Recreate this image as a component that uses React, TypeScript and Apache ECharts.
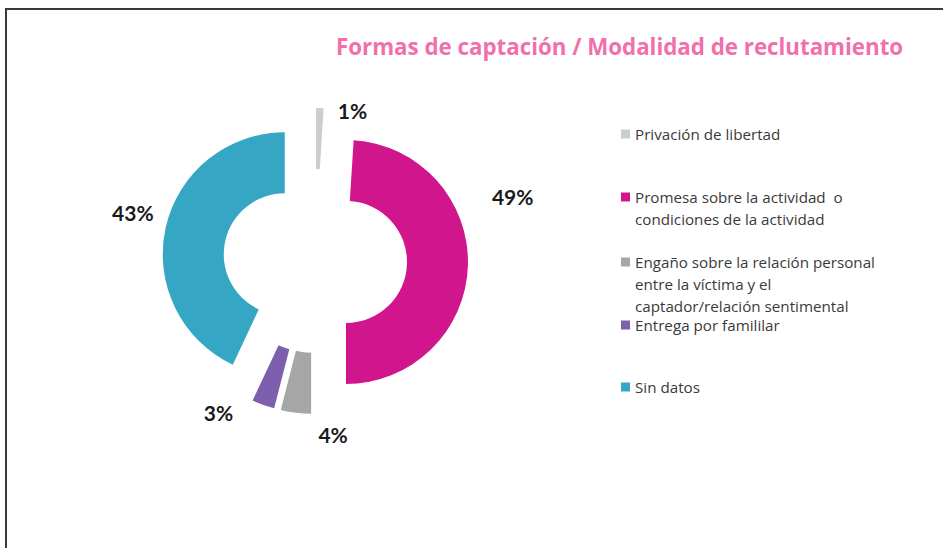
import React, { useEffect, useRef } from "react";
import * as echarts from "echarts";

const titleText = "Formas de captación / Modalidad de reclutamiento";
const categories = [
  "Privación de libertad",
  "Promesa sobre la actividad o condiciones de la actividad",
  "Engaño sobre la relación personal entre la víctima y el captador/relación sentimental",
  "Entrega por famililar",
  "Sin datos",
];
const legendLines = [
  ["Privación de libertad"],
  ["Promesa sobre la actividad  o", "condiciones de la actividad"],
  ["Engaño sobre la relación personal", "entre la víctima y el", "captador/relación sentimental"],
  ["Entrega por famililar"],
  ["Sin datos"],
];
const values = [1, 49, 4, 3, 43];
const colors = ["#C9CED2", "#D1168D", "#A6A6A6", "#7E5FAE", "#35A7C4"];

const legendFirstLineY = [134, 197, 262, 325, 387];
const labelShift = [
  [13, 2],
  [19, -69],
  [57, 22],
  [-25, 8],
  [-7, -15],
];

export default function App() {
  const ref = useRef<HTMLDivElement>(null);
  useEffect(() => {
    document.body.style.margin = "0";
    const chart = echarts.init(ref.current!, undefined, { renderer: "svg" });
    const lh = 22;
    const legends = categories.map((name, i) => {
      const n = legendLines[i].length;
      const pre = new Array(n - 1).fill("").join("\n");
      return {
        show: true,
        orient: "vertical",
        left: 621,
        top: legendFirstLineY[i] - (2 * n - 1) * (lh / 2),
        padding: 0,
        data: [name],
        icon: "rect",
        itemWidth: 9,
        itemHeight: 9,
        itemGap: 0,
        selectedMode: false,
        formatter: () => (n > 1 ? pre + "\n" : "") + legendLines[i].join("\n"),
        textStyle: {
          fontFamily: "Open Sans",
          fontSize: 15.2,
          color: "#3a3a3a",
          lineHeight: lh,
        },
      };
    });
    chart.setOption({
      animation: false,
      backgroundColor: "#ffffff",
      title: {
        text: titleText,
        left: 336,
        top: 35,
        padding: 0,
        textStyle: {
          fontFamily: "Open Sans",
          fontWeight: "bold",
          fontSize: 22.3,
          color: "#F06FAC",
        },
      },
      legend: legends,
      graphic: [
        {
          type: "rect",
          shape: { x: 6, y: 9, width: 1000, height: 700 },
          style: { fill: "none", stroke: "#3a3a3a", lineWidth: 2 },
          silent: true,
        },
      ],
      series: [
        {
          type: "pie",
          center: [315, 261],
          radius: [61, 122],
          startAngle: 90,
          clockwise: true,
          selectedMode: "multiple",
          selectedOffset: 31,
          avoidLabelOverlap: false,
          label: {
            show: true,
            position: "outside",
            formatter: "{c}%",
            fontFamily: "Lato",
            fontWeight: "bold",
            fontSize: 21,
            color: "#1a1a1a",
          },
          labelLine: { show: false, length: 0, length2: 0 },
          labelLayout: (p: any) => ({
            hideOverlap: false,
            dx: labelShift[p.dataIndex][0],
            dy: labelShift[p.dataIndex][1],
          }),
          emphasis: { disabled: true },
          select: { itemStyle: { borderWidth: 0 } },
          itemStyle: { borderWidth: 0 },
          data: categories.map((name, i) => ({
            name,
            value: values[i],
            selected: true,
            itemStyle: { color: colors[i] },
            select: { itemStyle: { color: colors[i] } },
          })),
        },
      ],
    });
    return () => chart.dispose();
  }, []);
  return <div ref={ref} style={{ width: 943, height: 548 }} />;
}
